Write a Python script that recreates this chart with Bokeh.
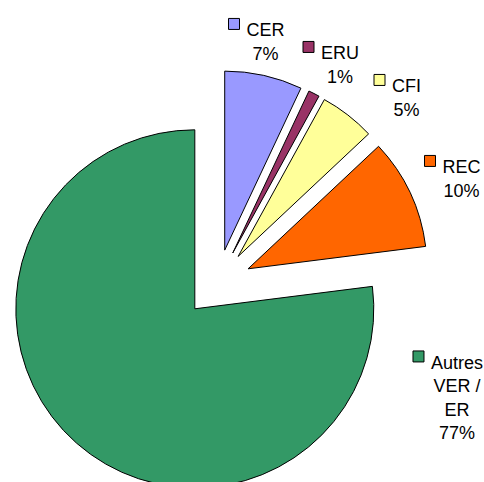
import math
from bokeh.plotting import figure
from bokeh.models import Range1d, ColumnDataSource
from bokeh.core.properties import value
from bokeh.embed import file_html
from bokeh.resources import INLINE

# ---- data ----
categories = ["CER", "ERU", "CFI", "REC", "Autres VER / ER"]
label_lines = [["CER"], ["ERU"], ["CFI"], ["REC"], ["Autres", "VER /", "ER"]]
percents = [7, 1, 5, 10, 77]
colors = ["#9999FF", "#993366", "#FFFF99", "#FF6600", "#339966"]

# ---- layout (page pixels) ----
W, H = 484, 482
MARGIN = 0
center_px = (216.8, 282.8)
radius = 179
explode = 34
label_anchor_px = [(265, 17.0), (339.5, 40.0), (406, 73.0), (461, 154.0), (456.5, 349.5)]
FONT = "Liberation Sans"
FS = 18
LINE = 23.5
CAP = 0.716 * FS
SQ = 11
GAP = 7

ARIAL = {"C": 722, "E": 667, "R": 722, "U": 722, "F": 611, "I": 278, "A": 667,
         "u": 556, "t": 278, "r": 333, "e": 556, "s": 500, "V": 667, " ": 278,
         "/": 278, "%": 889}


def text_w(s):
    return sum(ARIAL.get(c, 556) for c in s) / 1000.0 * FS


def to_data(sx, sy):
    return sx - MARGIN, (MARGIN + H) - sy


cx, cy = to_data(*center_px)
total = float(sum(percents))

wx, wy, st, en = [], [], [], []
cum = 0.0
for v in percents:
    t1 = cum / total * 2 * math.pi
    cum += v
    t2 = cum / total * 2 * math.pi
    tm = (t1 + t2) / 2
    wx.append(cx + explode * math.sin(tm))
    wy.append(cy + explode * math.cos(tm))
    st.append(math.pi / 2 - t2)
    en.append(math.pi / 2 - t1)

src = ColumnDataSource(dict(x=wx, y=wy, start=st, end=en, color=colors))

p = figure(width=W, height=H, output_backend="svg", toolbar_location=None,
           x_range=Range1d(0, W), y_range=Range1d(0, H),
           x_axis_type=None, y_axis_type=None, min_border=0,
           outline_line_color=None, background_fill_color="white")
p.grid.visible = False

p.wedge(x="x", y="y", radius=radius, start_angle="start", end_angle="end",
        direction="anticlock", fill_color="color", line_color="black",
        line_width=1, source=src)

tx, ty, tt = [], [], []
sqx, sqy, sqc = [], [], []
for i, (lines, pct) in enumerate(zip(label_lines, percents)):
    ax, top = label_anchor_px[i]
    all_lines = lines + [f"{pct}%"]
    for j, s in enumerate(all_lines):
        dx, dy = to_data(ax, top + j * LINE + CAP)
        tx.append(dx)
        ty.append(dy)
        tt.append(s)
    left = ax - text_w(lines[0]) / 2
    qx, qy = to_data(left - GAP - SQ / 2, top + CAP / 2)
    sqx.append(qx)
    sqy.append(qy)
    sqc.append(colors[i])

p.text(x=tx, y=ty, text=tt, text_font=value(FONT), text_font_size=value(f"{FS}px"),
       text_align="center", text_baseline="alphabetic", text_color="black")
p.rect(x=sqx, y=sqy, width=SQ, height=SQ, width_units="screen", height_units="screen",
       fill_color=sqc, line_color="black", line_width=1)

open("out.html", "w").write(file_html(p, INLINE))
